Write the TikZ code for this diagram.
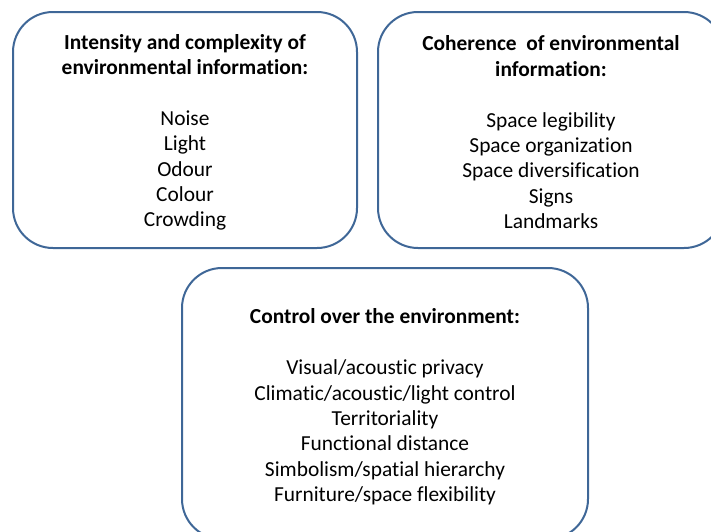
\documentclass[tikz,border=0pt]{standalone}
\usepackage{fontspec}
\setmainfont{Carlito}[Ligatures={NoCommon}]
\definecolor{boxblue}{HTML}{3F6797}
\begin{document}
\begin{tikzpicture}[x=1pt,y=-1pt,
  panel/.style={draw=boxblue, line width=2pt, rounded corners=40pt, inner sep=0pt},
  txt/.style={align=center, font=\fontsize{21.4}{25.4}\selectfont, inner sep=0pt, text=black}]
\useasboundingbox (0,0) rectangle (711,531);
\clip (0,0) rectangle (711,531);
\node[panel, minimum width=344pt, minimum height=236pt] (b1) at (185,130) {};
\node[panel, minimum width=346pt, minimum height=236pt] (b2) at (551,130) {};
\node[panel, minimum width=406pt, minimum height=271pt] (b3) at (385,403.5) {};
\node[txt] (t1) at (185,132.4) {\textbf{Intensity and complexity of}\\\textbf{environmental information:}\\[25.4pt]Noise\\Light\\Odour\\Colour\\Crowding};
\node[txt] (t2) at (551,132.4) {\textbf{Coherence~ of environmental}\\\textbf{information:}\\[25.4pt]Space legibility\\Space organization\\Space diversification\\Signs\\Landmarks};
\node[txt] (t3) at (385,407) {\textbf{Control over the environment:}\\[25.4pt]Visual/acoustic privacy\\Climatic/acoustic/light control\\Territoriality\\Functional distance\\Simbolism/spatial hierarchy\\Furniture/space flexibility};
\end{tikzpicture}
\end{document}
